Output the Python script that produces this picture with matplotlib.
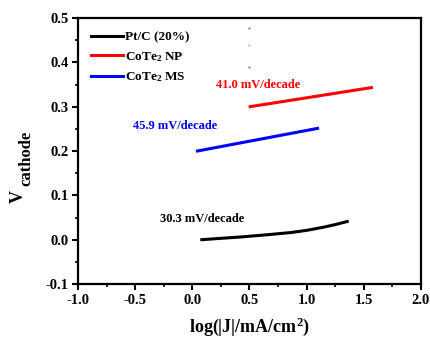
import matplotlib
matplotlib.use("Agg")
import matplotlib.pyplot as plt
from matplotlib.ticker import MultipleLocator

plt.rcParams['font.family'] = ['Liberation Serif', 'DejaVu Serif']
plt.rcParams['font.weight'] = 'bold'
plt.rcParams['mathtext.fontset'] = 'custom'
plt.rcParams['mathtext.rm'] = 'Liberation Serif:bold'
plt.rcParams['mathtext.it'] = 'Liberation Serif:bold'
plt.rcParams['mathtext.bf'] = 'Liberation Serif:bold'
plt.rcParams['axes.unicode_minus'] = False

# datos
ptc_x = [0.083, 0.25, 0.42, 0.65, 0.86, 1.0, 1.145, 1.25, 1.355]
ptc_y = [0.0, 0.003, 0.006, 0.011, 0.016, 0.021, 0.028, 0.034, 0.041]
np_x = [0.506, 1.566]
np_y = [0.300, 0.343]
ms_x = [0.045, 1.095]
ms_y = [0.200, 0.251]

labels = ["Pt/C (20%)", "CoTe$_2$ NP", "CoTe$_2$ MS"]
colores = ["black", "#ff0000", "#0000ff"]
pendientes = ["30.3 mV/decade", "41.0 mV/decade", "45.9 mV/decade"]

fig = plt.figure(figsize=(4.31, 3.41), dpi=100)
ax = fig.add_axes([78 / 431, 1 - 284 / 341, (421 - 78) / 431, (284 - 18) / 341])

ax.plot(ptc_x, ptc_y, color=colores[0], lw=2.2, label=labels[0])
ax.plot(np_x, np_y, color=colores[1], lw=2.2, label=labels[1])
ax.plot(ms_x, ms_y, color=colores[2], lw=2.2, label=labels[2])

# puntitos sueltos
ax.plot([0.5], [0.477], '.', color='#6060c0', ms=1)
ax.plot([0.5], [0.439], '.', color='#ff8080', ms=1)
ax.plot([0.5], [0.389], '.', color='#6060c0', ms=1)

ax.text(-0.28, 0.046, pendientes[0], color=colores[0], fontsize=9, fontweight='bold', va='center')
ax.text(0.21, 0.35, pendientes[1], color=colores[1], fontsize=9, fontweight='bold', va='center')
ax.text(-0.52, 0.256, pendientes[2], color=colores[2], fontsize=9, fontweight='bold', va='center')

ax.set_xlim(-1.0, 2.0)
ax.set_ylim(-0.1, 0.5)
ax.xaxis.set_major_locator(MultipleLocator(0.5))
ax.xaxis.set_minor_locator(MultipleLocator(0.25))
ax.yaxis.set_major_locator(MultipleLocator(0.1))
ax.yaxis.set_minor_locator(MultipleLocator(0.05))
ax.tick_params(which='major', direction='out', length=4, width=1.5, labelsize=10.5, pad=3)
ax.tick_params(which='minor', direction='out', length=2.5, width=1.2)
for s in ax.spines.values():
    s.set_linewidth(1.6)
for t in ax.get_xticklabels() + ax.get_yticklabels():
    t.set_fontweight('bold')

ax.set_xlabel("log(|J|/mA/cm$^2$)", fontsize=13, fontweight='bold')
ax.xaxis.set_label_coords(0.5, -0.12)

# etiqueta Y: V con subindice grande
fig.text(18.5 / 431, 1 - 196 / 341, "V", fontsize=13, fontweight='bold',
         rotation=90, ha='center', va='center')
fig.text(26.5 / 431, 1 - 158 / 341, "cathode", fontsize=12, fontweight='bold',
         rotation=90, ha='center', va='center')

ax.legend(loc='upper left', frameon=False, fontsize=9.5, handlelength=2.4,
          handletextpad=0.2, borderaxespad=0.6, labelspacing=0.5)

plt.savefig("out.png", dpi=100)
